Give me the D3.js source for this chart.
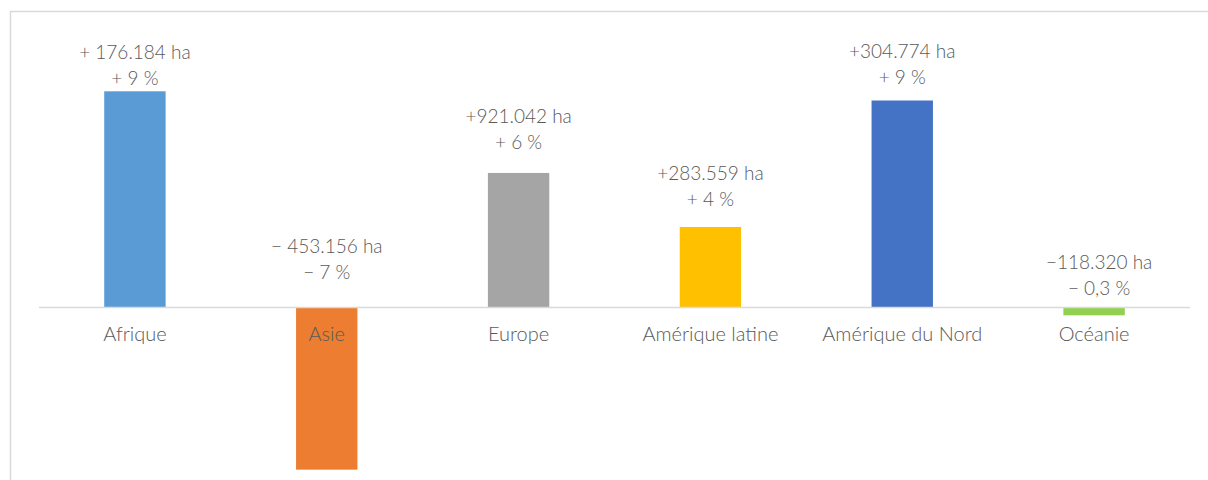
<!DOCTYPE html>
<html>
<head>
<meta charset="utf-8">
<script src="https://cdn.jsdelivr.net/npm/d3@7"></script>
<style>
  html, body { margin: 0; padding: 0; background: #fff; }
  svg { display: block; font-family: Lato, "Open Sans", sans-serif; }
</style>
</head>
<body>
<svg id="chart" width="1208" height="480"></svg>
<script>
// Change in area by region: percentage change and absolute change in hectares
const regions = ["Afrique", "Asie", "Europe", "Amérique latine", "Amérique du Nord", "Océanie"];
const pctChange = [9.4, -7.05, 5.85, 3.5, 9.0, -0.34];
const haLabels = ["+ 176.184 ha", "\u2212 453.156 ha", "+921.042 ha", "+283.559 ha", "+304.774 ha", "\u2212118.320 ha"];
const pctLabels = ["+ 9 %", "\u2212 7 %", "+ 6 %", "+ 4 %", "+ 9 %", "\u2212 0,3 %"];
const colors = ["#5B9BD5", "#ED7D31", "#A5A5A5", "#FFC000", "#4472C4", "#92D050"];

// label placement: gap between the lower label line and the bar top
// (or the zero line for losses), and a small horizontal nudge
const labelGap = [14, 36, 31, 29, 24, 20];
const labelNudge = [0, 0, 0, 0, 0, 5];

const svg = d3.select("#chart");
const textColor = "#595959";
const gridColor = "#D9D9D9";

// outer chart frame
svg.append("rect")
  .attr("x", 10.5).attr("y", 11.5)
  .attr("width", 1300).attr("height", 600)
  .attr("fill", "none").attr("stroke", gridColor).attr("stroke-width", 1.5);

const x = d3.scaleBand()
  .domain(regions)
  .range([39, 1190])
  .paddingInner(0.68)
  .paddingOuter(0.34);

const y = d3.scaleLinear()
  .domain([-8, 10])
  .range([491.5, 77.5]);

const data = regions.map((r, i) => ({
  region: r, value: pctChange[i], ha: haLabels[i], pct: pctLabels[i],
  color: colors[i], gap: labelGap[i], nudge: labelNudge[i]
}));

// bars
svg.append("g").selectAll("rect")
  .data(data)
  .join("rect")
  .attr("x", d => x(d.region))
  .attr("width", x.bandwidth())
  .attr("y", d => y(Math.max(0, d.value)))
  .attr("height", d => Math.abs(y(d.value) - y(0)))
  .attr("fill", d => d.color);

// zero line
svg.append("line")
  .attr("x1", 39).attr("x2", 1190)
  .attr("y1", y(0)).attr("y2", y(0))
  .attr("stroke", gridColor).attr("stroke-width", 1.5);

// category labels
const xAxis = d3.axisBottom(x).tickSize(0).tickPadding(0);
const gx = svg.append("g")
  .attr("transform", `translate(0,${y(0)})`)
  .call(xAxis);
gx.select(".domain").remove();
gx.selectAll("text")
  .attr("y", 33)
  .attr("dy", 0)
  .attr("fill", textColor)
  .style("font-family", "Lato, sans-serif")
  .style("font-weight", 300)
  .style("font-size", "20px");

// value labels: hectares and percentage
const labels = svg.append("g").selectAll("g")
  .data(data)
  .join("g")
  .attr("transform", d => `translate(${x(d.region) + x.bandwidth() / 2 + d.nudge},${y(Math.max(0, d.value)) - d.gap})`);

labels.append("text")
  .attr("text-anchor", "middle")
  .attr("dominant-baseline", "central")
  .attr("y", -26)
  .attr("fill", textColor)
  .style("font-weight", 300)
  .style("font-size", "19px")
  .text(d => d.ha);

labels.append("text")
  .attr("text-anchor", "middle")
  .attr("dominant-baseline", "central")
  .attr("y", 0)
  .attr("fill", textColor)
  .style("font-weight", 300)
  .style("font-size", "19px")
  .text(d => d.pct);
</script>
</body>
</html>
